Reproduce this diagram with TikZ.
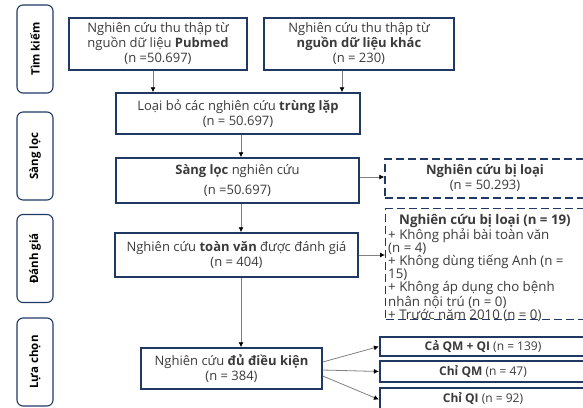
\documentclass[tikz,border=0pt]{standalone}
\usepackage{fontspec}
\setmainfont{Open Sans}
\usetikzlibrary{arrows.meta, positioning}
\definecolor{boxblue}{HTML}{1F3864}
\definecolor{txtgray}{HTML}{3A3A3A}
\definecolor{linegray}{HTML}{808080}

\tikzset{
    stage/.style={draw=boxblue, rounded corners=6pt, line width=1.1pt, rotate=90,
        minimum width=88, minimum height=36, inner sep=0pt,
        font=\fontsize{11.5}{13}\selectfont\bfseries},
    box/.style={draw=boxblue, line width=1.5pt, text=txtgray, align=center,
        inner sep=0pt, font=\fontsize{13}{15}\selectfont},
    dropbox/.style={draw=boxblue, line width=1.4pt, dash pattern=on 8pt off 4pt,
        text=txtgray, inner sep=0pt, font=\fontsize{13}{15}\selectfont},
    droptext/.style={text=txtgray, inner sep=0pt, align=left,
        font=\fontsize{13.3}{13.1}\selectfont},
    resbox/.style={draw=boxblue, line width=2.2pt, text=txtgray, inner sep=0pt,
        minimum width=206, font=\fontsize{12}{13}\selectfont},
    flow/.style={draw=linegray, line width=0.8pt,
        -{Latex[length=5pt, width=5pt, color=black]}}
}

\begin{document}
\begin{tikzpicture}[x=1pt, y=-1pt]
    \clip (0,0) rectangle (583,407);

    % stages
    \node[stage] (find)   at (35,49)    {Tìm kiếm};
    \node[stage] (screenlbl) at (35,156) {Sàng lọc};
    \node[stage] (judge)  at (35,258.5) {Đánh giá};
    \node[stage] (pick)   at (35,362)   {Lựa chọn};

    % flow
    \node[box, minimum width=178, minimum height=52] (pubmed) at (158,44)
        {Nghiên cứu thu thập từ\\ nguồn dữ liệu \textbf{Pubmed}\\ (n =50.697)};
    \node[box, minimum width=190, minimum height=52] (other) at (359,44)
        {Nghiên cứu thu thập từ\\ \textbf{nguồn dữ liệu khác}\\ (n = 230)};
    \node[box, minimum width=244, minimum height=41] (dup) at (238,113.5)
        {Loại bỏ các nghiên cứu \textbf{trùng lặp}\\ (n = 50.697)};
    \node[box, minimum width=243, minimum height=45] (screen) at (237.5,180.5)
        {\textbf{Sàng lọc} nghiên cứu\\[5pt] (n =50.697)};
    \node[box, minimum width=243, minimum height=44] (fulltext) at (236.5,255)
        {Nghiên cứu \textbf{toàn văn} được đánh giá\\ (n = 404)};
    \node[box, minimum width=181, minimum height=41] (eligible) at (231.5,368.5)
        {Nghiên cứu \textbf{đủ điều kiện}\\ (n = 384)};

    % excluded
    \node[dropbox, align=center, minimum width=200, minimum height=39] (excla) at (485,178.5)
        {\textbf{Nghiên cứu bị loại}\\ (n = 50.293)};
    \node[dropbox, minimum width=200, minimum height=111, anchor=north west] (exclb) at (385,208) {};
    \node[droptext, anchor=north west] (exclbtext) at (388,214)
        {\hspace*{11pt}\textbf{Nghiên cứu bị loại (n = 19)}\\
         + Không phải bài toàn văn\\ (n = 4)\\
         + Không dùng tiếng Anh (n =\\ 15)\\
         + Không áp dụng cho bệnh\\ nhân nội trú (n = 0)\\
         + Trước năm 2010 (n = 0)};

    % results
    \node[resbox, minimum height=19] (both)  at (483,346.5) {\textbf{Cả QM + QI} (n = 139)};
    \node[resbox, minimum height=21] (qmonly) at (483,371.5) {\textbf{Chỉ QM} (n = 47)};
    \node[resbox, minimum height=21] (qionly) at (483,398.5) {\textbf{Chỉ QI} (n = 92)};

    % arrows
    \draw[flow] ([xshift=-5pt]pubmed.south) -- ([xshift=-5pt]pubmed.south |- dup.north);
    \draw[flow] ([xshift=-17pt]other.south) -- ([xshift=-17pt]other.south |- dup.north);
    \draw[flow] ([xshift=3pt]dup.south) -- ([xshift=3pt]dup.south |- screen.north);
    \draw[flow] ([xshift=3.5pt]screen.south) -- ([xshift=3.5pt]screen.south |- fulltext.north);
    \draw[flow] ([yshift=3.5pt]screen.east) -- ([yshift=3.5pt]screen.east -| excla.west);
    \draw[flow] (fulltext.east) -- (fulltext.east -| exclb.west);
    \draw[flow] ([xshift=4.5pt]fulltext.south) -- ([xshift=4.5pt]fulltext.south |- eligible.north);
    \draw[flow] ([yshift=6.5pt]eligible.east) -- (both.west);
    \draw[flow] ([yshift=-1.5pt]eligible.east) -- (qmonly.west);
    \draw[flow] ([yshift=-7.5pt]eligible.east) -- ([yshift=-1pt]qionly.west);
\end{tikzpicture}
\end{document}
